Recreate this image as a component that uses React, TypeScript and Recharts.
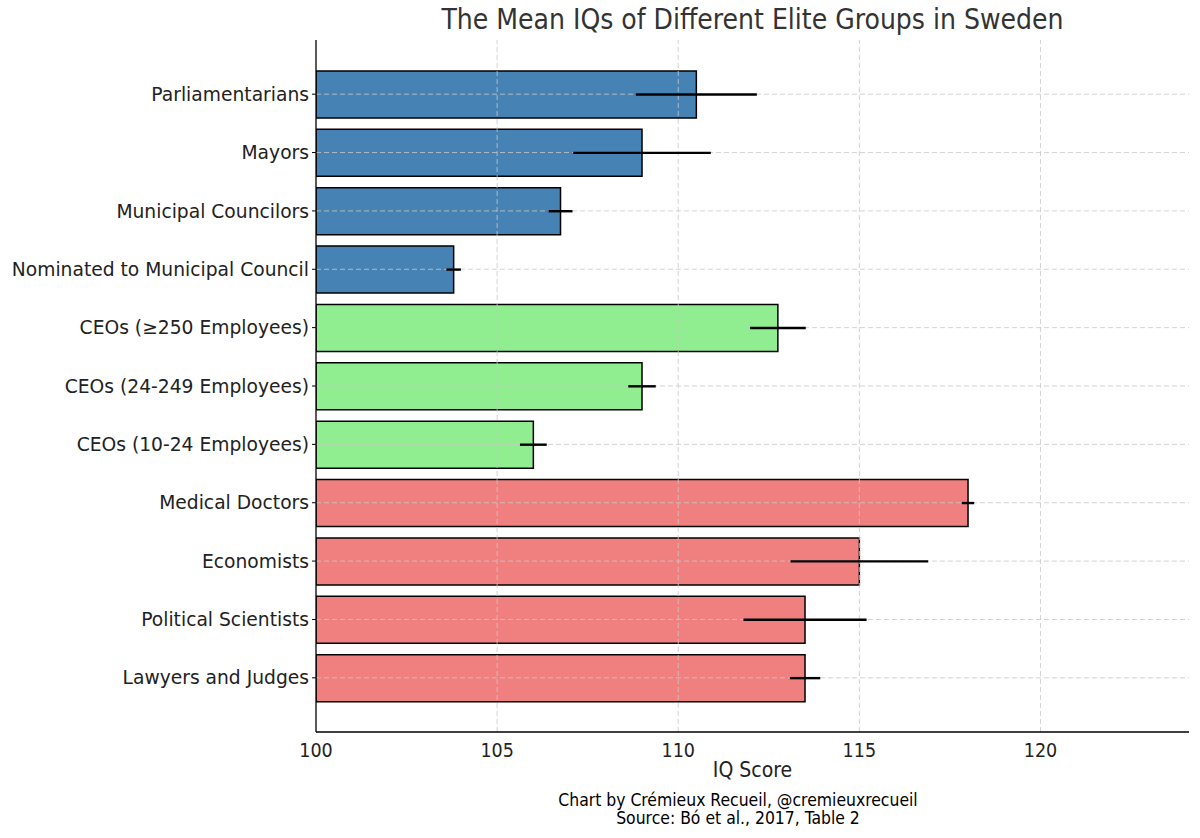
import { BarChart, Bar, XAxis, YAxis, Cell, ErrorBar, ReferenceLine } from 'recharts';

const groups = [
  'Parliamentarians',
  'Mayors',
  'Municipal Councilors',
  'Nominated to Municipal Council',
  'CEOs (≥250 Employees)',
  'CEOs (24-249 Employees)',
  'CEOs (10-24 Employees)',
  'Medical Doctors',
  'Economists',
  'Political Scientists',
  'Lawyers and Judges',
];
const meanIQ = [110.5, 109.0, 106.75, 103.8, 112.75, 109.0, 106.0, 118.0, 115.0, 113.5, 113.5];
const errIQ = [1.67, 1.9, 0.33, 0.2, 0.77, 0.38, 0.37, 0.17, 1.9, 1.7, 0.42];
const sector = ['pol', 'pol', 'pol', 'pol', 'ceo', 'ceo', 'ceo', 'pro', 'pro', 'pro', 'pro'];
const xTicks = [100, 105, 110, 115, 120];

const sectorColor: Record<string, string> = {
  pol: '#4682B4',
  ceo: '#90EE90',
  pro: '#F08080',
};

const data = groups.map((name, i) => ({
  name,
  iq: meanIQ[i],
  err: errIQ[i],
  sector: sector[i],
}));

const font = '"DejaVu Sans", sans-serif';
const condensed = '"DejaVu Sans Condensed", "DejaVu Sans", sans-serif';
const gridStroke = '#c8c8c8';

export default function App() {
  return (
    <div style={{ position: 'absolute', left: 0, top: 0, width: 1200, height: 838, background: '#fff', fontFamily: font }}>
      <div
        style={{
          position: 'absolute', left: 316, width: 873, top: 3, textAlign: 'center',
          fontFamily: condensed, fontStretch: 'condensed', fontSize: 28, color: '#333',
        }}
      >
        The Mean IQs of Different Elite Groups in Sweden
      </div>
      <BarChart
        width={1200}
        height={838}
        data={data}
        layout="vertical"
        margin={{ top: 40, right: 11, bottom: 76, left: 0 }}
        barSize={47}
      >
        <XAxis
          type="number"
          domain={[100, 124.1]}
          ticks={xTicks}
          allowDataOverflow
          height={30}
          tickLine={false}
          axisLine={{ stroke: '#000', strokeWidth: 1.3 }}
          tick={{ fill: '#222', fontSize: 19.5, fontFamily: condensed, fontStretch: 'condensed' }}
          tickMargin={5}
        />
        <YAxis
          type="category"
          dataKey="name"
          width={316}
          padding={{ top: 25, bottom: 25 }}
          tickSize={4}
          tickMargin={3}
          tickLine={{ stroke: '#000' }}
          axisLine={{ stroke: '#000', strokeWidth: 1.3 }}
          tick={{ fill: '#222', fontSize: 18.7, fontFamily: font }}
          interval={0}
        />
        {xTicks.slice(1).map((t) => (
          <ReferenceLine key={t} x={t} stroke={gridStroke} strokeDasharray="5 3" strokeOpacity={0.8} zIndex={350} />
        ))}
        {groups.map((g) => (
          <ReferenceLine key={g} y={g} stroke={gridStroke} strokeDasharray="5 3" strokeOpacity={0.8} zIndex={350} />
        ))}
        <Bar dataKey="iq" stroke="#000" strokeWidth={1.5} isAnimationActive={false}>
          {data.map((d) => (
            <Cell key={d.name} fill={sectorColor[d.sector]} />
          ))}
          <ErrorBar dataKey="err" direction="x" width={0} stroke="#000" strokeWidth={2.4} zIndex={700} />
        </Bar>
      </BarChart>
      <div style={{ position: 'absolute', left: 316, width: 873, top: 758, textAlign: 'center', fontSize: 21, color: '#222', fontFamily: condensed, fontStretch: 'condensed' }}>
        IQ Score
      </div>
      <div style={{ position: 'absolute', left: 338, width: 800, top: 791, textAlign: 'center', fontSize: 17.4, lineHeight: '18px', color: '#000', fontFamily: condensed, fontStretch: 'condensed' }}>
        Chart by Crémieux Recueil, @cremieuxrecueil
        <br />
        Source: Bó et al., 2017, Table 2
      </div>
    </div>
  );
}
